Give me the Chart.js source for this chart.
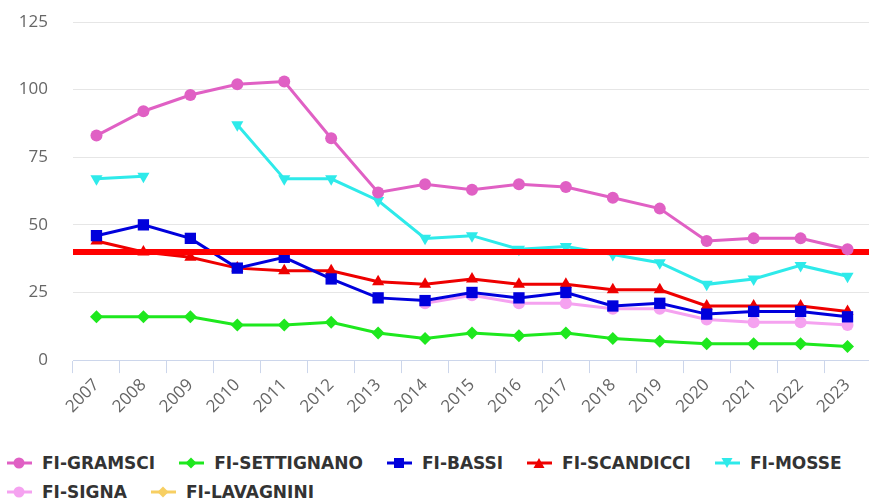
<!DOCTYPE html>
<html>
<head>
<meta charset="utf-8">
<script src="https://cdn.jsdelivr.net/npm/chart.js@4"></script>
<style>
  body { margin: 0; background: #fff; overflow: hidden; width: 869px; height: 500px; position: relative; }
  #wrap { position: relative; width: 879px; height: 440px; }
  .row {
    position: absolute; left: 7px; display: flex; white-space: nowrap;
    font-family: "DejaVu Sans", sans-serif; font-weight: bold; font-size: 17px; color: #333;
  }
  #row1 { top: 453px; }
  #row2 { top: 482px; }
  .item { display: flex; align-items: center; margin-right: 24px; height: 20px; }
  .item svg { margin-right: 10px; }
</style>
</head>
<body>
<div id="wrap"><canvas id="chart" width="879" height="440"></canvas></div>
<div class="row" id="row1"></div>
<div class="row" id="row2"></div>
<script>
const years = ['2007', '2008', '2009', '2010', '2011', '2012', '2013', '2014', '2015',
  '2016', '2017', '2018', '2019', '2020', '2021', '2022', '2023'];

const gramsci = [83, 92, 98, 102, 103, 82, 62, 65, 63, 65, 64, 60, 56, 44, 45, 45, 41];
const settignano = [16, 16, 16, 13, 13, 14, 10, 8, 10, 9, 10, 8, 7, 6, 6, 6, 5];
const bassi = [46, 50, 45, 34, 38, 30, 23, 22, 25, 23, 25, 20, 21, 17, 18, 18, 16];
const scandicci = [44, 40, 38, 34, 33, 33, 29, 28, 30, 28, 28, 26, 26, 20, 20, 20, 18];
const mosse = [67, 68, null, 87, 67, 67, 59, 45, 46, 41, 42, 39, 36, 28, 30, 35, 31];
const signa = [null, null, null, null, null, null, null, 21, 24, 21, 21, 19, 19, 15, 14, 14, 13];
const lavagnini = [null, null, null, null, null, null, null, null, null,
  null, null, null, null, null, null, null, null];

const limitValue = 40;
const yTicks = [0, 25, 50, 75, 100, 125];

const series = [
  { name: 'FI-GRAMSCI', data: gramsci, color: '#e060c4', style: 'circle', rot: 0, r: 6 },
  { name: 'FI-SETTIGNANO', data: settignano, color: '#1ee81e', style: 'rectRot', rot: 0, r: 6.5 },
  { name: 'FI-BASSI', data: bassi, color: '#0000dc', style: 'rect', rot: 0, r: 8 },
  { name: 'FI-SCANDICCI', data: scandicci, color: '#ee0000', style: 'triangle', rot: 0, r: 7 },
  { name: 'FI-MOSSE', data: mosse, color: '#2eeaea', style: 'triangle', rot: 180, r: 7 },
  { name: 'FI-SIGNA', data: signa, color: '#f5a2f0', style: 'circle', rot: 0, r: 6 },
  { name: 'FI-LAVAGNINI', data: lavagnini, color: '#f7cf62', style: 'rectRot', rot: 0, r: 6 },
];

// draw order: later series on top, gramsci last (above the limit line)
const drawOrder = [0, 6, 1, 2, 3, 5, 4];

// red threshold line, drawn just before the gramsci series
const limitLine = {
  id: 'limitLine',
  beforeDatasetDraw(chart, args) {
    if (args.index !== 0) return;
    const { ctx, chartArea, scales } = chart;
    const py = scales.y.getPixelForValue(limitValue);
    ctx.save();
    ctx.strokeStyle = '#ff0000';
    ctx.lineWidth = 6;
    ctx.beginPath();
    ctx.moveTo(chartArea.left, py);
    ctx.lineTo(chartArea.right, py);
    ctx.stroke();
    ctx.restore();
  }
};

new Chart(document.getElementById('chart'), {
  type: 'line',
  data: {
    labels: years,
    datasets: series.map((s, i) => ({
      label: s.name,
      data: s.data,
      borderColor: s.color,
      backgroundColor: s.color,
      borderWidth: 3,
      pointStyle: s.style,
      pointRotation: s.rot,
      pointRadius: s.r,
      pointBorderWidth: 0,
      spanGaps: false,
      tension: 0,
      order: drawOrder[i],
    })),
  },
  options: {
    responsive: false,
    animation: false,
    layout: { padding: { left: 18, top: 22, right: 0, bottom: 21 } },
    plugins: { legend: { display: false }, tooltip: { enabled: false } },
    scales: {
      x: {
        offset: true,
        afterFit: (axis) => { axis.paddingLeft = 0; axis.paddingRight = 0; },
        grid: { offset: true, drawOnChartArea: false, drawTicks: true, tickLength: 13, color: '#ccd6eb' },
        border: { color: '#ccd6eb', width: 1 },
        ticks: {
          minRotation: 45, maxRotation: 45, padding: 2, color: '#666',
          font: { family: 'Open Sans', size: 17 },
        },
      },
      y: {
        min: 0, max: 125,
        afterBuildTicks: (axis) => { axis.ticks = yTicks.map(v => ({ value: v })); },
        afterFit: (axis) => { axis.width = 55; axis.paddingTop = 0; axis.paddingBottom = 0; },
        grid: { color: '#e6e6e6', drawTicks: false },
        border: { display: false },
        ticks: { padding: 25, color: '#666', font: { family: 'Open Sans', size: 17 } },
      },
    },
  },
  plugins: [limitLine],
});

// legend with line + marker symbols, two rows like the original
function symbol(s) {
  let m = '';
  const c = s.color;
  if (s.style === 'circle') m = `<circle cx="12" cy="8" r="5.5" fill="${c}"/>`;
  else if (s.style === 'rect') m = `<rect x="7" y="3" width="10" height="10" fill="${c}"/>`;
  else if (s.style === 'rectRot') m = `<polygon points="12,2.5 17.5,8 12,13.5 6.5,8" fill="${c}"/>`;
  else if (s.style === 'triangle' && s.rot === 180) m = `<polygon points="6.5,3 17.5,3 12,13" fill="${c}"/>`;
  else m = `<polygon points="12,3 17.5,13 6.5,13" fill="${c}"/>`;
  return `<svg width="25" height="16"><line x1="0" y1="8" x2="25" y2="8" stroke="${c}" stroke-width="3"/>${m}</svg>`;
}
const itemHtml = s => `<div class="item">${symbol(s)}<span>${s.name}</span></div>`;
document.getElementById('row1').innerHTML = series.slice(0, 5).map(itemHtml).join('');
document.getElementById('row2').innerHTML = series.slice(5).map(itemHtml).join('');
</script>
</body>
</html>
